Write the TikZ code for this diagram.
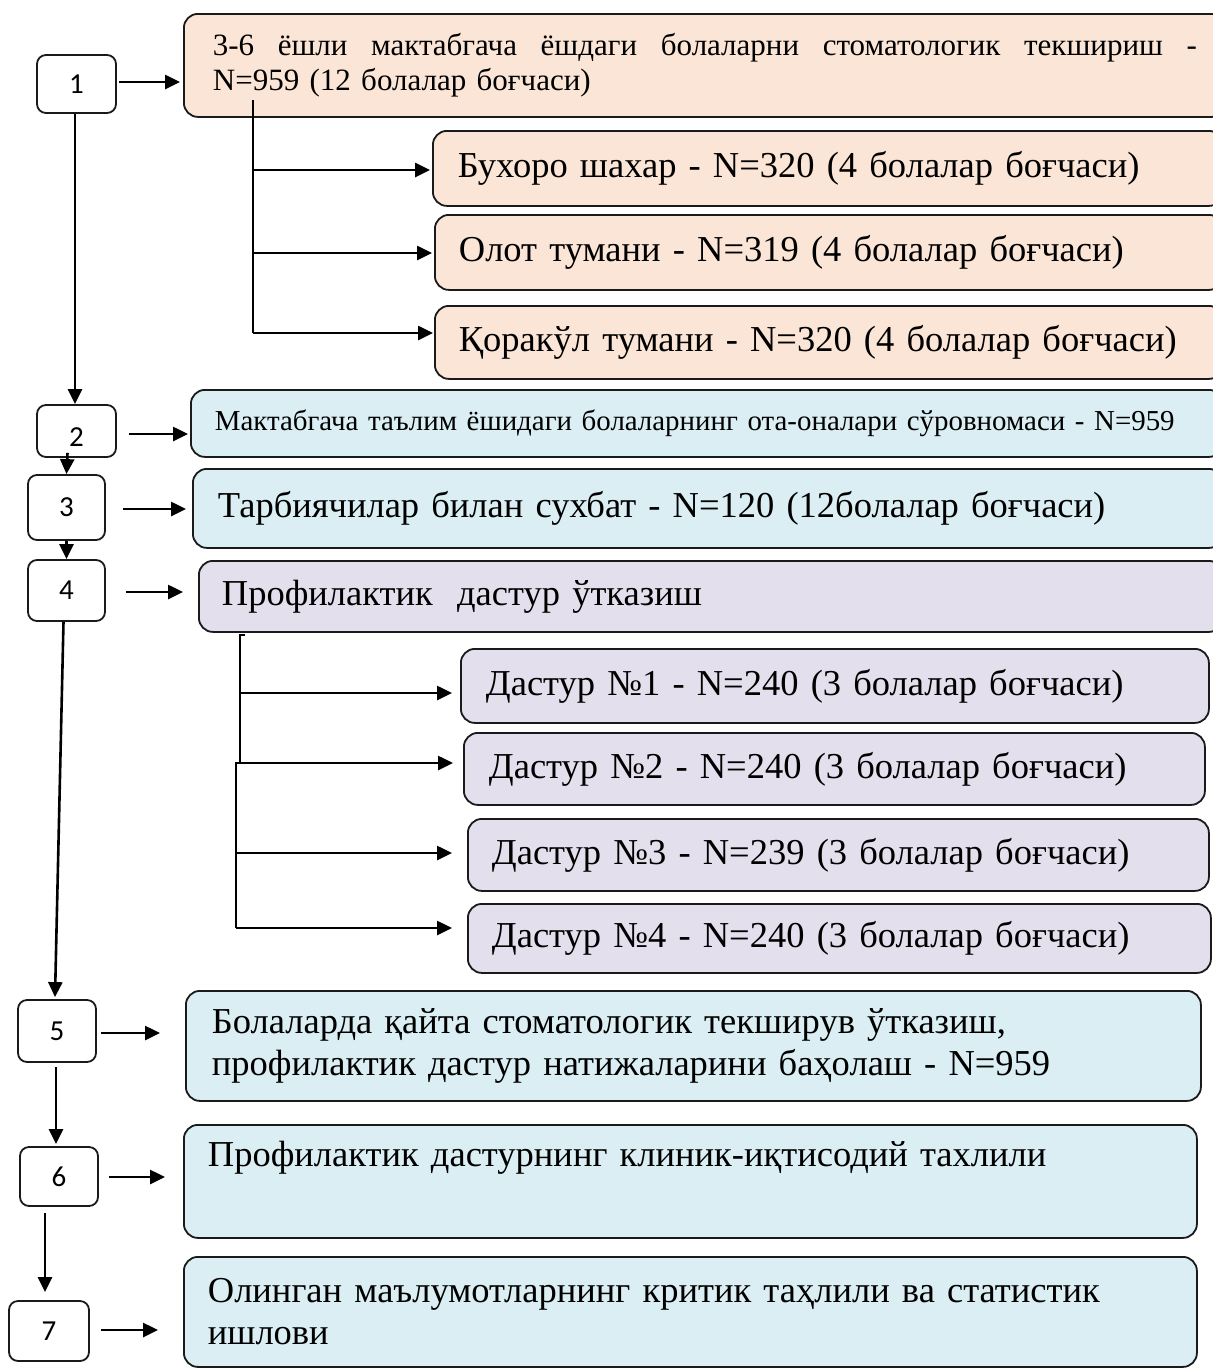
\documentclass[tikz,border=0pt]{standalone}
\usepackage{fontspec}
\setmainfont{Liberation Serif}
\newfontfamily\numfont{Carlito}
\usetikzlibrary{arrows.meta,calc}
\definecolor{peach}{HTML}{FBE5D6}
\definecolor{paleblue}{HTML}{DAEEF3}
\definecolor{lavender}{HTML}{E4DFEC}
\definecolor{edge}{HTML}{1A1A1A}
\tikzset{
  numbox/.style={draw=edge, line width=1.8pt, rounded corners=9pt, inner sep=0pt,
    font=\numfont\fontsize{29}{34}\selectfont},
  bigbox/.style={draw=edge, line width=1.8pt, rounded corners=14pt, anchor=north west,
    align=left, inner ysep=0pt},
  fbig/.style={font=\fontsize{36.5}{42}\selectfont},
  ln/.style={line width=2.6pt, draw=black},
  arr/.style={line width=2.6pt, draw=black, -{Triangle[length=15pt,width=14pt]}}
}
\begin{document}
\begin{tikzpicture}[x=1pt,y=-1pt]
\useasboundingbox (0,0) rectangle (1213,1369);
\clip (0,0) rectangle (1213,1369);

% number boxes
\node[numbox, minimum width=79pt, minimum height=58pt] (n1) at (76.5,84) {1};
\node[numbox, minimum width=79pt, minimum height=52pt] (n2) at (76.5,431) {\smash{\raisebox{-15pt}{2}}};
\node[numbox, minimum width=77pt, minimum height=65pt] (n3) at (66.5,507.5) {3};
\node[numbox, minimum width=77pt, minimum height=61pt] (n4) at (66.5,590.5) {4};
\node[numbox, minimum width=78pt, minimum height=62pt] (n5) at (57,1031) {5};
\node[numbox, minimum width=78pt, minimum height=59pt] (n6) at (59,1176.5) {6};
\node[numbox, minimum width=80pt, minimum height=60pt] (n7) at (49,1331) {7};

% step boxes
\node[bigbox, fill=peach, minimum width=1042pt, minimum height=103pt, inner xsep=29pt,
  text width=984pt, font=\fontsize{31}{35}\selectfont] (top) at (183,13)
  {\hbox to 984pt{3-6\hfill ёшли\hfill мактабгача\hfill ёшдаги\hfill болаларни\hfill стоматологик\hfill текшириш\hfill -}\\N=959 (12 болалар боғчаси)};

\node[bigbox, fill=peach, fbig, minimum width=790pt, minimum height=75pt, inner xsep=25pt, text width=740pt] (b1) at (432,130)
  {Бухоро шахар - N=320 (4 болалар боғчаси)};
\node[bigbox, fill=peach, fbig, minimum width=788pt, minimum height=75pt, inner xsep=24pt, text width=740pt] (b2) at (434,214)
  {Олот тумани - N=319 (4 болалар боғчаси)};
\node[bigbox, fill=peach, fbig, minimum width=788pt, minimum height=73pt, inner xsep=24pt, text width=740pt] (b3) at (434,305)
  {Қоракўл тумани - N=320 (4 болалар боғчаси)};

\node[bigbox, fill=paleblue, minimum width=1032pt, minimum height=67pt, inner xsep=24pt, text width=984pt,
  font=\fontsize{28.9}{33}\selectfont] (s2) at (190,389)
  {Мактабгача таълим ёшидаги болаларнинг ота-оналари сўровномаси - N=959};
\node[bigbox, fill=paleblue, fbig, minimum width=1030pt, minimum height=79pt, inner xsep=25pt, text width=980pt] (s3) at (192,468)
  {Тарбиячилар билан сухбат - N=120 (12болалар боғчаси)};
\node[bigbox, fill=lavender, fbig, minimum width=1024pt, minimum height=71pt, inner xsep=23pt, text width=978pt] (s4) at (198,560)
  {Профилактик\ \ дастур ўтказиш};

\node[bigbox, fill=lavender, fbig, minimum width=748pt, minimum height=74pt, inner xsep=25pt, text width=698pt] (d1) at (460,648)
  {Дастур №1 - N=240 (3 болалар боғчаси)};
\node[bigbox, fill=lavender, fbig, minimum width=741pt, minimum height=72pt, inner xsep=25pt, text width=691pt] (d2) at (463,732)
  {Дастур №2 - N=240 (3 болалар боғчаси)};
\node[bigbox, fill=lavender, fbig, minimum width=741pt, minimum height=72pt, inner xsep=24pt, text width=693pt] (d3) at (467,818)
  {Дастур №3 - N=239 (3 болалар боғчаси)};
\node[bigbox, fill=lavender, fbig, minimum width=743pt, minimum height=69pt, inner xsep=24pt, text width=695pt] (d4) at (467,903)
  {Дастур №4 - N=240 (3 болалар боғчаси)};

\node[bigbox, fill=paleblue, fbig, minimum width=1015pt, minimum height=110pt, inner xsep=26pt, text width=963pt] (s5) at (185,990)
  {Болаларда қайта стоматологик текширув ўтказиш,\\профилактик дастур натижаларини баҳолаш - N=959};
\node[bigbox, fill=paleblue, fbig, minimum width=1013pt, minimum height=113pt, inner xsep=24pt, text width=965pt] (s6) at (183,1124)
  {Профилактик дастурнинг клиник-иқтисодий тахлили\\\strut};
\node[bigbox, fill=paleblue, fbig, minimum width=1013pt, minimum height=110pt, inner xsep=24pt, text width=965pt] (s7) at (183,1256)
  {Олинган маълумотларнинг критик таҳлили ва статистик\\ишлови};

% horizontal arrows from number boxes
\draw[arr, shorten <=2pt, shorten >=3pt] (n1.east |- 0,82) -- (top.west |- 0,82);
\draw[arr, shorten <=12pt, shorten >=2pt] (n2.east |- 0,434) -- (s2.west |- 0,434);
\draw[arr, shorten <=17pt, shorten >=6pt] (n3.east |- 0,509) -- (s3.west |- 0,509);
\draw[arr, shorten <=20pt, shorten >=15pt] (n4.east |- 0,592) -- (s4.west |- 0,592);
\draw[arr, shorten <=4pt, shorten >=25pt] (n5.east |- 0,1033) -- (s5.west |- 0,1033);
\draw[arr, shorten <=10pt, shorten >=18pt] (n6.east |- 0,1177) -- (s6.west |- 0,1177);
\draw[arr, shorten <=11pt, shorten >=25pt] (n7.east |- 0,1330) -- (s7.west |- 0,1330);

% vertical arrows between number boxes
\draw[arr] (n1.south -| 75,0) -- (n2.north -| 75,0);
\draw[arr] ($(n2.south -| n3.north)+(1,-5)$) -- (n3.north);
\draw[arr] (n3.south) -- (n4.north);
\draw[arr] ($(n4.south)+(-3,0)$) -- ($(n5.north)+(-2,-2)$);
\draw[arr] ($(n5.south)+(-1,4)$) -- ($(n6.north)+(-3,-2)$);
\draw[arr] ($(n6.south -| n7.north)+(-4,6)$) -- ($(n7.north)+(-4,-8)$);

% branch from box 1
\coordinate (br1) at (253,100);
\coordinate (a1) at (253,170);
\coordinate (a2) at (253,253);
\coordinate (a3) at (253,333);
\draw[ln] (br1) -- (a3);
\draw[arr, shorten >=2pt] (a1) -- (a1 -| b1.west);
\draw[arr, shorten >=2pt] (a2) -- (a2 -| b2.west);
\draw[arr, shorten >=1pt] (a3) -- (a3 -| b3.west);

% branch from box 4
\coordinate (br2) at (240,635);
\coordinate (c1) at (240,693);
\coordinate (c2) at (240,763);
\coordinate (c2b) at (236,763);
\coordinate (c3) at (236,853);
\coordinate (c4) at (236,928);
\draw[ln] (245,635) -- (br2) -- (c2) -- (c2b) -- (c4);
\draw[arr, shorten >=8pt] (c1) -- (c1 -| d1.west);
\draw[arr, shorten >=10pt] (c2) -- (c2 -| d2.west);
\draw[arr, shorten >=15pt] (c3) -- (c3 -| d3.west);
\draw[arr, shorten >=15pt] (c4) -- (c4 -| d4.west);
\end{tikzpicture}
\end{document}
